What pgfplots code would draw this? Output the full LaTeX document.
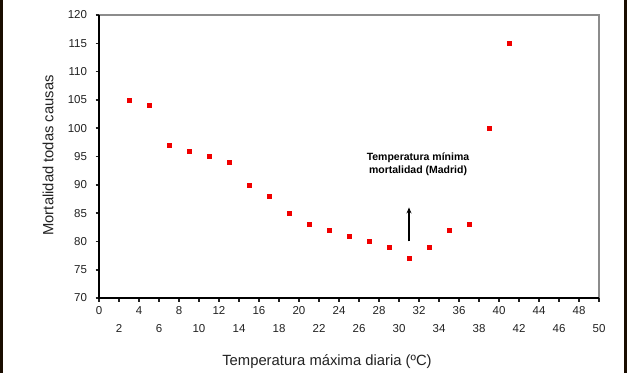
\documentclass[border=0pt]{standalone}
\usepackage{pgfplots}
\pgfplotsset{compat=1.18}
\usetikzlibrary{arrows.meta}
\usepackage{fontspec}
\setmainfont{Liberation Sans}
\definecolor{tickgray}{HTML}{222222}
\definecolor{framegray}{HTML}{8C8C8C}
\definecolor{ptred}{HTML}{F00000}
\begin{document}
\begin{tikzpicture}[x=1pt,y=1pt]
\useasboundingbox (0,0) rectangle (627,373);
\fill[white] (0,0) rectangle (627,373);
\fill[black!90!orange] (0,0) rectangle (3,373);
\fill[black!90!orange] (623.5,0) rectangle (627,373);
\begin{axis}[
  at={(99pt,75pt)}, anchor=south west,
  scale only axis, width=500pt, height=283pt,
  xmin=0, xmax=50, ymin=70, ymax=120,
  axis line style={draw=none},
  xtick={0,4,...,48}, 
  extra x ticks={2,6,...,50},
  extra x tick style={xticklabel style={yshift=-18pt}},
  ytick={70,75,...,120},
  tick align=outside,
  xtick pos=bottom, ytick pos=left,
  major tick length=3.5pt,
  every tick/.style={tickgray, line width=1.6pt},
  ticklabel style={font=\fontsize{11.5}{12}\selectfont, text=tickgray},
  /pgf/number format/assume math mode=true,
  yticklabel style={xshift=-5pt},
  xticklabel style={yshift=-1pt, text height=8.5pt, text depth=0pt},
  clip=false,
]
\draw[framegray, line width=1.6pt] (rel axis cs:0,1) -- (rel axis cs:1,1) -- (rel axis cs:1,0);
\draw[black, line width=2pt] (rel axis cs:0,1) -- (rel axis cs:0,0) -- (rel axis cs:1,0);
\addplot[only marks, mark=square*, mark size=2pt, ptred, mark options={draw=ptred, fill=ptred}] coordinates {
(3,105) (5,104) (7,97) (9,96) (11,95) (13,94) (15,90) (17,88) (19,85) (21,83)
(23,82) (25,81) (27,80) (29,79) (31,77) (33,79) (35,82) (37,83) (39,100) (41,115)
};
\draw[-{Stealth[length=6pt,width=5pt]}, line width=1.8pt, black] (axis cs:31,80) -- (axis cs:31,86);
\node[align=center, font=\fontsize{10.5}{13}\selectfont\bfseries, text=black] at (axis cs:31.9,93.6) {Temperatura mínima\\mortalidad (Madrid)};
\node[font=\fontsize{14.8}{16}\selectfont, text=tickgray] at (axis cs:22.8,58.8) {Temperatura máxima diaria (ºC)};
\node[font=\fontsize{14.8}{16}\selectfont, text=tickgray, rotate=90] at (axis cs:-5.1,95.2) {Mortalidad todas causas};
\end{axis}
\end{tikzpicture}
\end{document}
